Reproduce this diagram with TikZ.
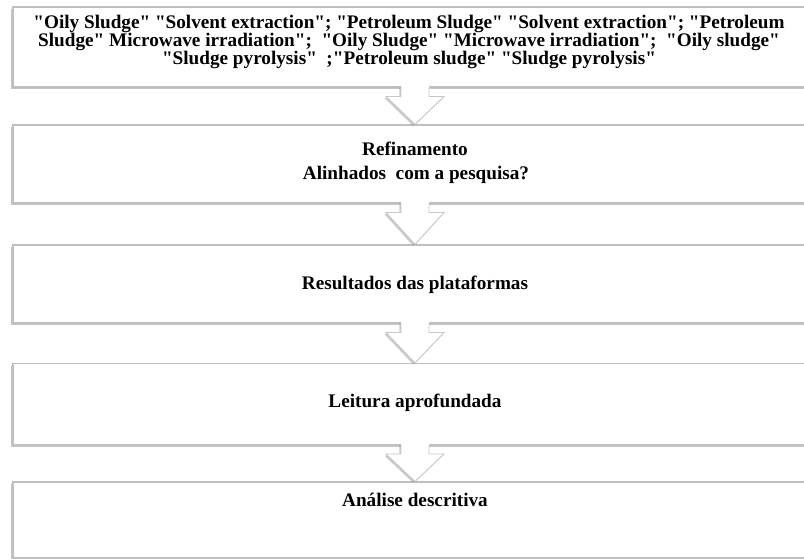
\documentclass[tikz,border=0pt]{standalone}
\usepackage{fontspec}
\setmainfont[Ligatures=TeXOff]{Liberation Serif}
\usetikzlibrary{calc,shadows}

\begin{document}
\begin{tikzpicture}[
    x=0.75pt, y=-0.75pt,
    box/.style={draw=black!25, line width=0.8pt, fill=white, minimum width=804*0.75pt,
        drop shadow={shadow xshift=-1.6pt, shadow yshift=-1.6pt, fill=black!45, opacity=0.5}},
    txt/.style={font=\bfseries\fontsize{14.4pt}{13.5pt}\selectfont, align=center, inner sep=0pt},
    fatfill/.style={fill=white, drop shadow={shadow xshift=-1.2pt, shadow yshift=-1.2pt, fill=black!45, opacity=0.45}},
    fatedge/.style={draw=black!22, line width=0.7pt}
]
\useasboundingbox (0,0) rectangle (804,559);
\clip (0,0) rectangle (804,559);

\node[box, minimum height=80*0.75pt] (b1) at (415,47) {};
\node[box, minimum height=78*0.75pt] (b2) at (415,164) {};
\node[box, minimum height=78*0.75pt] (b3) at (415,284) {};
\node[box, minimum height=81*0.75pt] (b4) at (415,404) {};
\node[box, minimum height=76*0.75pt] (b5) at (415,520) {};

\node[txt] (t1) at (409,42) {%
"Oily Sludge" "Solvent extraction"; "Petroleum Sludge" "Solvent extraction"; "Petroleum\\
Sludge" Microwave irradiation";\ \ "Oily Sludge" "Microwave irradiation";\ \ "Oily sludge"\\
"Sludge pyrolysis"\ \ ;"Petroleum sludge" "Sludge pyrolysis"};
\node[txt, anchor=base] (t2a) at (415,156) {Refinamento};
\node[txt, anchor=base] (t2b) at (416,180) {Alinhados\ \ com a pesquisa?};
\node[txt, anchor=base] (t3) at (415,290) {Resultados das plataformas};
\node[txt, anchor=base] (t4) at (415,408) {Leitura aprofundada};
\node[txt, anchor=base] (t5) at (415,507) {Análise descritiva};

% block arrows between the boxes
\foreach \a/\b in {b1/b2, b2/b3, b3/b4, b4/b5} {
  \path[fatfill] ($(\a.south)+(-14,-2)$) -- ($(\a.south)+(-14,9)$) -- ($(\a.south)+(-29,9)$)
    -- (\b.north) -- ($(\a.south)+(29,9)$) -- ($(\a.south)+(14,9)$) -- ($(\a.south)+(14,-2)$) -- cycle;
  \draw[fatedge] ($(\a.south)+(-14,0)$) -- ($(\a.south)+(-14,9)$) -- ($(\a.south)+(-29,9)$)
    -- (\b.north) -- ($(\a.south)+(29,9)$) -- ($(\a.south)+(14,9)$) -- ($(\a.south)+(14,0)$);
}
\end{tikzpicture}
\end{document}
